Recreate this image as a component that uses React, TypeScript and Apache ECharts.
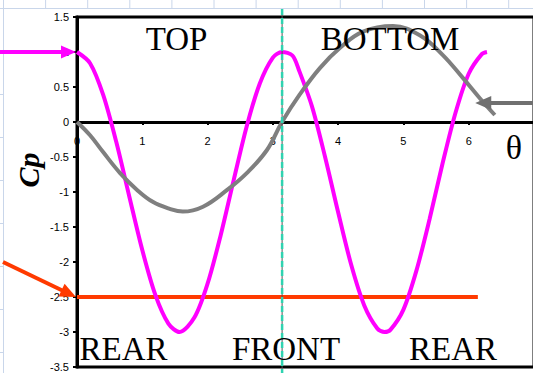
import React, { useEffect, useRef } from "react";
import * as echarts from "echarts";

// Pressure coefficient around a cylinder, Cp = f(θ)
const thetaCp = [0, 0.2, 0.4, 0.6, 0.8, 1.0, 1.2, 1.4, 1.57, 1.8, 2.0, 2.2, 2.4, 2.6, 2.8, 3.0, 3.14, 3.3, 3.4, 3.6, 3.8, 4.0, 4.2, 4.4, 4.6, 4.71, 4.8, 5.0, 5.2, 5.4, 5.6, 5.8, 6.0, 6.2, 6.28];
const cpValues = [1.0, 0.84, 0.39, -0.28, -1.06, -1.83, -2.47, -2.88, -3.0, -2.79, -2.31, -1.62, -0.83, -0.06, 0.55, 0.92, 1.0, 0.95, 0.74, 0.22, -0.5, -1.29, -2.04, -2.62, -2.95, -3.0, -2.97, -2.68, -2.12, -1.39, -0.59, 0.14, 0.69, 0.97, 1.0];

// Sketched lift-direction curve
const thetaSketch = [0, 0.2, 0.4, 0.66, 0.92, 1.16, 1.42, 1.62, 1.93, 2.3, 2.6, 2.91, 3.14, 3.41, 3.72, 4.03, 4.38, 4.84, 5.25, 5.6, 5.91, 6.17, 6.4];
const sketchValues = [0, -0.19, -0.43, -0.73, -0.97, -1.14, -1.24, -1.28, -1.21, -0.97, -0.73, -0.4, 0, 0.39, 0.77, 1.06, 1.29, 1.37, 1.24, 0.96, 0.63, 0.34, 0.1];

// Rear (base) pressure level
const rearTheta = [0, 6.14];
const rearCp = [-2.5, -2.5];

const frontTheta = 3.1416;
const peakCp = 1.0;
const basePressure = -2.5;
const sketchArrowTarget = [6.1, 0.27];

const xMin = 0;
const xMax = 7;
const xStep = 1;
const yMin = -3.5;
const yMax = 1.5;
const yStep = 0.5;

const topLabels = ["TOP", "BOTTOM"];
const bottomLabels = ["REAR", "FRONT", "REAR"];

const zip = (xs: number[], ys: number[]) => xs.map((x, i) => [x, ys[i]]);

function arrow(
  tail: number[],
  tip: number[],
  color: string,
  width: number,
  headLen: number,
  headHalf: number
) {
  const dx = tip[0] - tail[0];
  const dy = tip[1] - tail[1];
  const len = Math.hypot(dx, dy);
  const ux = dx / len;
  const uy = dy / len;
  const bx = tip[0] - ux * headLen;
  const by = tip[1] - uy * headLen;
  return [
    {
      type: "line",
      shape: { x1: tail[0], y1: tail[1], x2: bx + ux * 2, y2: by + uy * 2 },
      style: { stroke: color, lineWidth: width },
      z: 20,
    },
    {
      type: "polygon",
      shape: {
        points: [
          [tip[0], tip[1]],
          [bx - uy * headHalf, by + ux * headHalf],
          [bx + uy * headHalf, by - ux * headHalf],
        ],
      },
      style: { fill: color },
      z: 20,
    },
  ];
}

const GRID = { left: 77, right: -1, top: 17, bottom: 6 };
const CHART_H = 373;

export default function App() {
  const ref = useRef<HTMLDivElement>(null);

  useEffect(() => {
    if (!ref.current) return;
    const chart = echarts.init(ref.current, null, { renderer: "svg" });

    // the θ axis sits on Cp = 0, so lift it up from the grid's bottom edge
    const gridHeight = CHART_H - GRID.top - GRID.bottom;
    const zeroOffset = -gridHeight * ((0 - yMin) / (yMax - yMin));

    chart.setOption({
      animation: false,
      backgroundColor: "#ffffff",
      grid: {
        ...GRID,
        containLabel: false,
        outerBoundsMode: "none",
        show: true,
        borderColor: "#000",
        borderWidth: 3,
        backgroundColor: "transparent",
      },
      xAxis: {
        type: "value",
        position: "bottom",
        offset: zeroOffset,
        min: xMin,
        max: xMax,
        interval: xStep,
        axisLine: { show: true, onZero: false, lineStyle: { color: "#000", width: 3 } },
        axisTick: { show: true, inside: false, length: 3, lineStyle: { color: "#000", width: 2 } },
        axisLabel: {
          margin: 13,
          fontSize: 11,
          fontFamily: "Liberation Sans, Arial, sans-serif",
          color: "#000",
          showMaxLabel: false,
          formatter: (v: number) => (v >= xMax ? "" : String(v)),
        },
        splitLine: { show: false },
      },
      yAxis: {
        type: "value",
        min: yMin,
        max: yMax,
        interval: yStep,
        axisLine: { show: true, onZero: false, lineStyle: { color: "#000", width: 3 } },
        axisTick: { show: true, inside: false, length: 4, lineStyle: { color: "#000", width: 2 } },
        axisLabel: {
          margin: 8,
          fontSize: 11,
          fontFamily: "Liberation Sans, Arial, sans-serif",
          color: "#000",
        },
        splitLine: { show: false },
      },
      series: [
        {
          type: "line",
          data: zip(rearTheta, rearCp),
          showSymbol: false,
          lineStyle: { color: "#ff3a00", width: 4 },
          z: 3,
        },
        {
          type: "line",
          data: zip(thetaCp, cpValues),
          smooth: 0.3,
          showSymbol: false,
          lineStyle: { color: "#ff00ff", width: 4 },
          z: 4,
        },
        {
          type: "line",
          data: zip(thetaSketch, sketchValues),
          smooth: 0.4,
          showSymbol: false,
          lineStyle: { color: "#7f7f7f", width: 4 },
          z: 5,
        },
      ],
    });

    const px = (x: number, y: number) =>
      chart.convertToPixel({ gridIndex: 0 }, [x, y]) as number[];

    const W = 533;
    const H = CHART_H;
    const sheetLine = "#c9d6ea";
    const els: any[] = [];

    // spreadsheet cell lines around the chart object
    for (let x = 3.5; x < W; x += 42.1) {
      els.push({
        type: "line",
        shape: { x1: x, y1: 0, x2: x, y2: 8.5 },
        style: { stroke: sheetLine, lineWidth: 1 },
        z: 1,
      });
    }
    els.push({
      type: "line",
      shape: { x1: 0, y1: 8.5, x2: W, y2: 8.5 },
      style: { stroke: sheetLine, lineWidth: 1 },
      z: 1,
    });
    for (let y = 51.5; y < H; y += 43) {
      els.push({
        type: "line",
        shape: { x1: 0, y1: y, x2: 3.5, y2: y },
        style: { stroke: sheetLine, lineWidth: 1 },
        z: 1,
      });
    }
    els.push({
      type: "line",
      shape: { x1: 3.5, y1: 8.5, x2: 3.5, y2: H },
      style: { stroke: sheetLine, lineWidth: 1 },
      z: 1,
    });

    // front stagnation line at θ = π
    const fx = px(frontTheta, 0)[0];
    els.push({
      type: "line",
      shape: { x1: fx, y1: 9, x2: fx, y2: H },
      style: { stroke: "#555", lineWidth: 1 },
      z: 10,
    });
    els.push({
      type: "line",
      shape: { x1: fx, y1: 9, x2: fx, y2: H },
      style: { stroke: "#2fd3b0", lineWidth: 2.5, lineDash: [6, 3] },
      z: 11,
    });

    // pointer arrows
    const pMag = px(0, peakCp);
    els.push(...arrow([0, pMag[1]], [pMag[0] - 1, pMag[1]], "#ff00ff", 4, 15, 6.5));
    const pRed = px(0, basePressure);
    els.push(...arrow([3, 262], [pRed[0] - 1, pRed[1]], "#ff3a00", 4, 16, 7));
    const pGray = px(sketchArrowTarget[0], sketchArrowTarget[1]);
    els.push(...arrow([W + 2, pGray[1]], pGray, "#707070", 4, 16, 7));

    // region labels
    const serif = "Liberation Serif, Times New Roman, serif";
    const regionFont = `33px ${serif}`;
    const topX = [176.5, 390];
    topLabels.forEach((t, i) =>
      els.push({
        type: "text",
        x: topX[i],
        y: 39,
        style: { text: t, font: regionFont, fill: "#000", textAlign: "center", textVerticalAlign: "middle" },
        z: 15,
      })
    );
    const bottomX = [123.5, 286, 453];
    bottomLabels.forEach((t, i) =>
      els.push({
        type: "text",
        x: bottomX[i],
        y: 349,
        style: { text: t, font: regionFont, fill: "#000", textAlign: "center", textVerticalAlign: "middle" },
        z: 15,
      })
    );

    // axis titles
    els.push({
      type: "text",
      x: 28,
      y: 170,
      rotation: Math.PI / 2,
      style: {
        text: "Cp",
        font: `italic bold 30px ${serif}`,
        fill: "#000",
        textAlign: "center",
        textVerticalAlign: "middle",
      },
      z: 15,
    });
    els.push({
      type: "text",
      x: 514,
      y: 147,
      style: {
        text: "θ",
        font: `34px ${serif}`,
        fill: "#000",
        textAlign: "center",
        textVerticalAlign: "middle",
      },
      z: 15,
    });

    chart.setOption({ graphic: { elements: els } });

    return () => chart.dispose();
  }, []);

  return (
    <div
      ref={ref}
      style={{ position: "fixed", left: 0, top: 0, width: 533, height: 373, background: "#fff" }}
    />
  );
}
